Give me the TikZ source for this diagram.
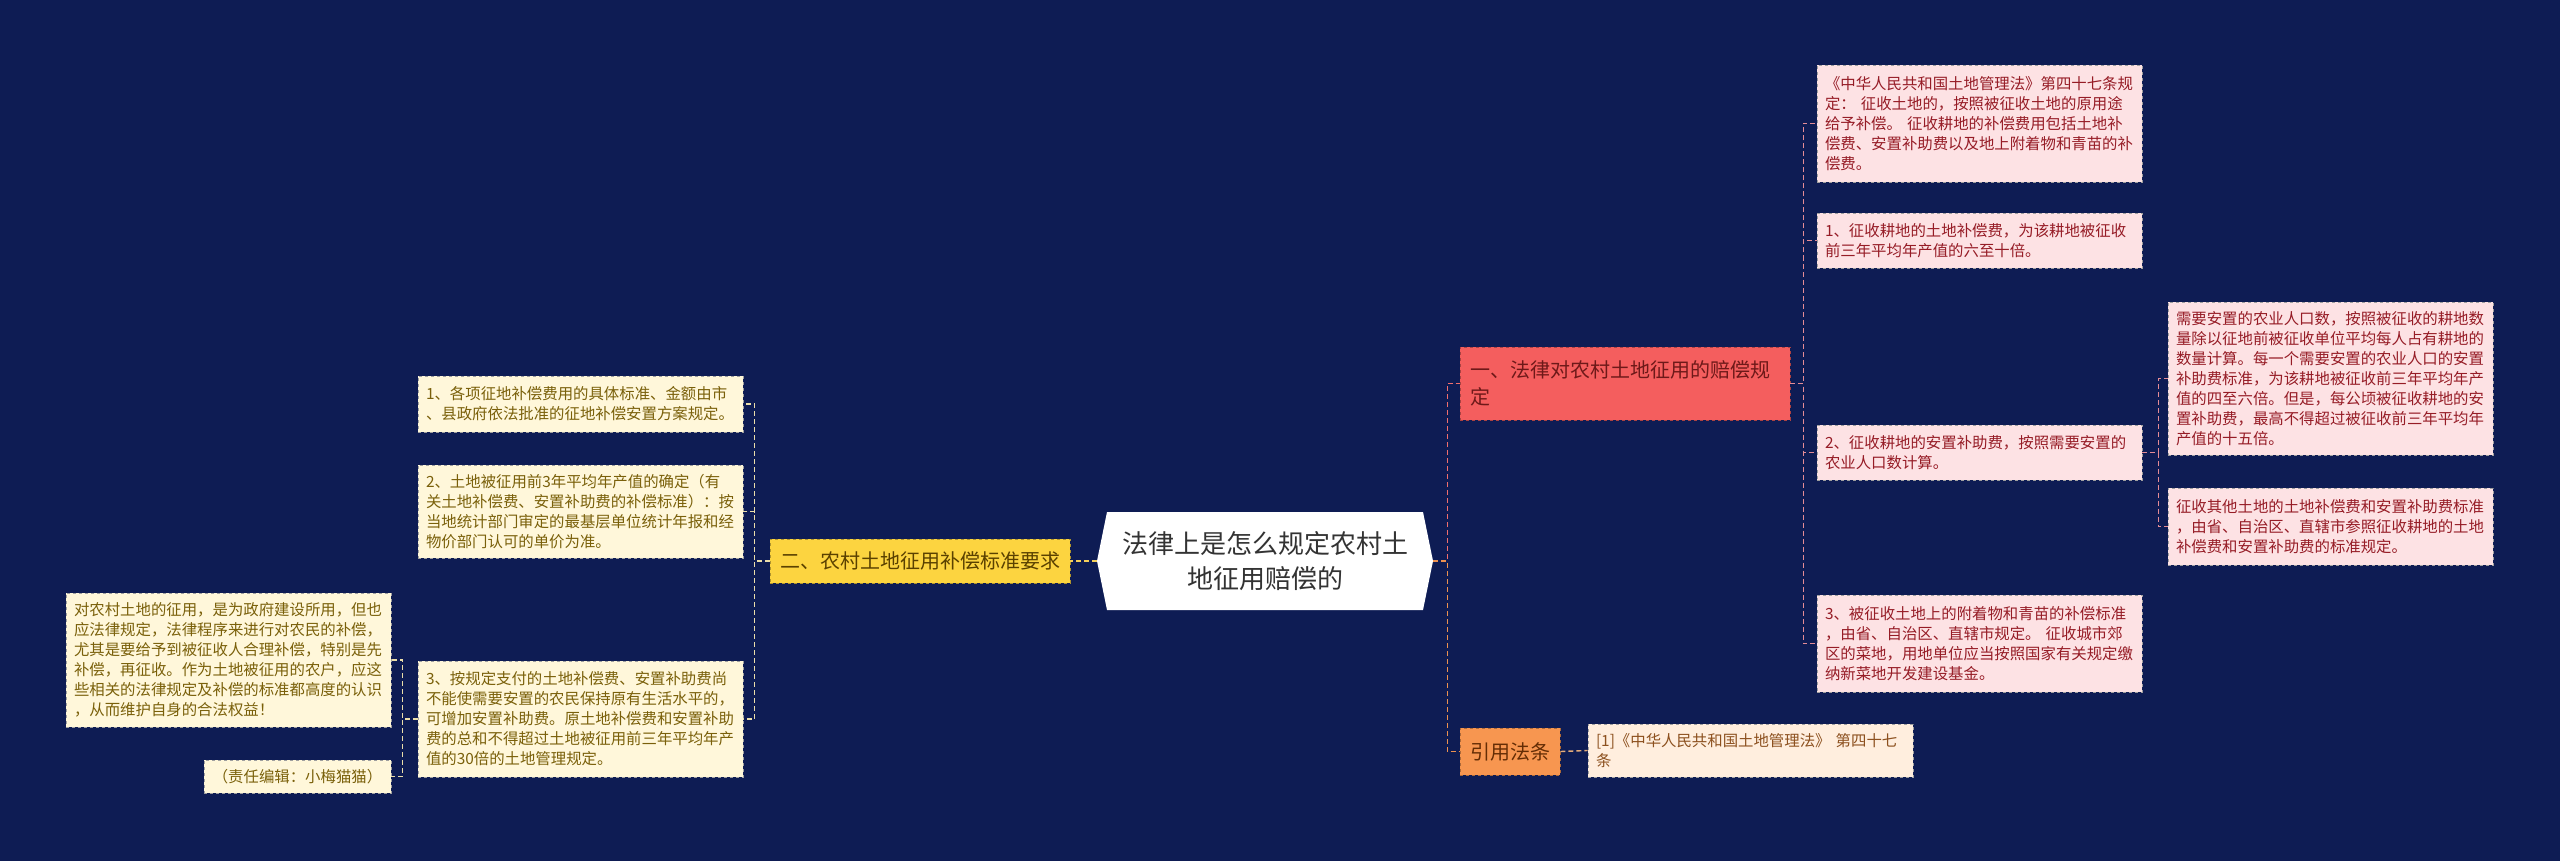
\documentclass[tikz,border=0pt]{standalone}
\usepackage{fontspec}
\setmainfont{Noto Sans CJK SC}
\usepackage{tikz}
\usetikzlibrary{positioning,calc}
\usepackage{xcolor}
\definecolor{bgcol}{RGB}{14,28,84}
\definecolor{rootcol}{RGB}{51,51,51}
\definecolor{redcol}{RGB}{244,94,94}
\definecolor{redtxt}{RGB}{110,25,25}
\definecolor{pinkcol}{RGB}{253,226,228}
\definecolor{pinktxt}{RGB}{150,28,38}
\definecolor{orangecol}{RGB}{247,150,80}
\definecolor{orangetxt}{RGB}{100,45,5}
\definecolor{peachcol}{RGB}{255,238,222}
\definecolor{peachtxt}{RGB}{140,80,30}
\definecolor{yellowcol}{RGB}{252,212,64}
\definecolor{yellowtxt}{RGB}{90,65,0}
\definecolor{creamcol}{RGB}{255,247,218}
\definecolor{creamtxt}{RGB}{122,96,10}
\definecolor{lnkred}{RGB}{240,110,110}
\definecolor{lnkpink}{RGB}{228,140,150}
\definecolor{lnkorange}{RGB}{236,145,80}
\definecolor{lnkpeach}{RGB}{228,172,122}
\definecolor{lnkyellow}{RGB}{245,208,90}
\definecolor{lnkcream}{RGB}{235,222,170}
\tikzset{
  % root label (hexagon is filled separately)
  rootnode/.style={inner sep=0pt, minimum width=336pt, minimum height=98pt, align=center,
                   text=rootcol, font=\fontsize{26}{35}\selectfont},
  % first level boxes
  lvlbox/.style={rectangle, draw=#1!70!black, dashed, line width=0.8pt, fill=#1,
                 inner xsep=10pt, inner ysep=0pt, align=left, font=\fontsize{20}{27}\selectfont},
  % leaf boxes
  leafbox/.style={rectangle, draw=gray!75, dashed, line width=0.8pt, fill=#1,
                  text width=309pt, inner xsep=8pt, inner ysep=0pt, align=left,
                  font=\fontsize{15.4}{20}\selectfont},
  % dashed connector
  link/.style={draw=#1, line width=1.4pt, dash pattern=on 5pt off 3pt},
}
\begin{document}
\begin{tikzpicture}[x=1pt,y=-1pt]
  \fill[bgcol] (0,0) rectangle (2560,861);
  \useasboundingbox (0,0) rectangle (2560,861);

  % root
  \coordinate (rc) at (1265,561);
  \fill[white] ($(rc)+(-158,-49)$) -- ($(rc)+(158,-49)$) -- ($(rc)+(168,0)$)
    -- ($(rc)+(158,49)$) -- ($(rc)+(-158,49)$) -- ($(rc)+(-168,0)$) -- cycle;
  \node[rootnode] (root) at (rc) {法律上是怎么规定农村土\\地征用赔偿的};

  % right: first branch
  \node[lvlbox=redcol, text=redtxt, minimum width=330pt, minimum height=73pt, text width=310pt] (law) at (1625,383.5)
    {一、法律对农村土地征用的赔偿规\\定};
  \node[leafbox=pinkcol, text=pinktxt, minimum height=117pt] (art) at (1979.5,123.5)
    {《中华人民共和国土地管理法》第四十七条规\\定： 征收土地的，按照被征收土地的原用途\\给予补偿。 征收耕地的补偿费用包括土地补\\偿费、安置补助费以及地上附着物和青苗的补\\偿费。};
  \node[leafbox=pinkcol, text=pinktxt, minimum height=55pt] (landfee) at (1979.5,240.5)
    {1、征收耕地的土地补偿费，为该耕地被征收\\前三年平均年产值的六至十倍。};
  \node[leafbox=pinkcol, text=pinktxt, minimum height=55pt] (resfee) at (1979.5,452.5)
    {2、征收耕地的安置补助费，按照需要安置的\\农业人口数计算。};
  \node[leafbox=pinkcol, text=pinktxt, minimum height=97pt] (cropfee) at (1979.5,643.5)
    {3、被征收土地上的附着物和青苗的补偿标准\\，由省、自治区、直辖市规定。 征收城市郊\\区的菜地，用地单位应当按照国家有关规定缴\\纳新菜地开发建设基金。};
  \node[leafbox=pinkcol, text=pinktxt, minimum height=153pt] (resstd) at (2330.5,378.5)
    {需要安置的农业人口数，按照被征收的耕地数\\量除以征地前被征收单位平均每人占有耕地的\\数量计算。每一个需要安置的农业人口的安置\\补助费标准，为该耕地被征收前三年平均年产\\值的四至六倍。但是，每公顷被征收耕地的安\\置补助费，最高不得超过被征收前三年平均年\\产值的十五倍。};
  \node[leafbox=pinkcol, text=pinktxt, minimum height=77pt] (otherstd) at (2330.5,526.5)
    {征收其他土地的土地补偿费和安置补助费标准\\，由省、自治区、直辖市参照征收耕地的土地\\补偿费和安置补助费的标准规定。};

  % right: cited articles
  \node[lvlbox=orangecol, text=orangetxt, minimum width=100pt, minimum height=47pt] (cite) at (1510,751.5) {引用法条};
  \node[leafbox=peachcol, text=peachtxt, minimum height=53pt] (citeref) at (1750.5,750.5)
    {[1]《中华人民共和国土地管理法》 第四十七\\条};

  % left: second branch
  \node[lvlbox=yellowcol, text=yellowtxt, minimum width=298pt, minimum height=44pt] (std) at (920,561)
    {二、农村土地征用补偿标准要求};
  \node[leafbox=creamcol, text=creamtxt, minimum height=56pt] (amount) at (580.5,404)
    {1、各项征地补偿费用的具体标准、金额由市\\、县政府依法批准的征地补偿安置方案规定。};
  \node[leafbox=creamcol, text=creamtxt, minimum height=93pt] (output) at (580.5,511.5)
    {2、土地被征用前3年平均年产值的确定（有\\关土地补偿费、安置补助费的补偿标准）：按\\当地统计部门审定的最基层单位统计年报和经\\物价部门认可的单价为准。};
  \node[leafbox=creamcol, text=creamtxt, minimum height=116pt] (extra) at (580.5,719)
    {3、按规定支付的土地补偿费、安置补助费尚\\不能使需要安置的农民保持原有生活水平的，\\可增加安置补助费。原土地补偿费和安置补助\\费的总和不得超过土地被征用前三年平均年产\\值的30倍的土地管理规定。};
  \node[leafbox=creamcol, text=creamtxt, minimum height=134pt] (note) at (228.5,660)
    {对农村土地的征用，是为政府建设所用，但也\\应法律规定，法律程序来进行对农民的补偿，\\尤其是要给予到被征收人合理补偿，特别是先\\补偿，再征收。作为土地被征用的农户，应这\\些相关的法律规定及补偿的标准都高度的认识\\，从而维护自身的合法权益！};
  \node[leafbox=creamcol, text=creamtxt, text width=171pt, align=center, minimum height=33pt] (editor) at (297.5,776.5)
    {（责任编辑：小梅猫猫）};

  % connectors, right
  \draw[link=lnkred] (root.east) -- ++(14,0) |- (law.west);
  \draw[link=lnkorange] (root.east) -- ++(14,0) |- (cite.west);
  \foreach \n in {art,landfee,resfee,cropfee}
    \draw[link=lnkpink] (law.east) -- ++(13,0) |- (\n.west);
  \foreach \n in {resstd,otherstd}
    \draw[link=lnkpink] (resfee.east) -- ++(16,0) |- (\n.west);
  \draw[link=lnkpeach] (cite.east) -- (citeref.west);

  % connectors, left
  \draw[link=lnkyellow] (root.west) -- (std.east);
  \foreach \n in {amount,output,extra}
    \draw[link=lnkcream] (std.west) -- ++(-15,0) |- (\n.east);
  \foreach \n in {note,editor}
    \draw[link=lnkcream] (extra.west) -- ++(-15,0) |- (\n.east);
\end{tikzpicture}
\end{document}
